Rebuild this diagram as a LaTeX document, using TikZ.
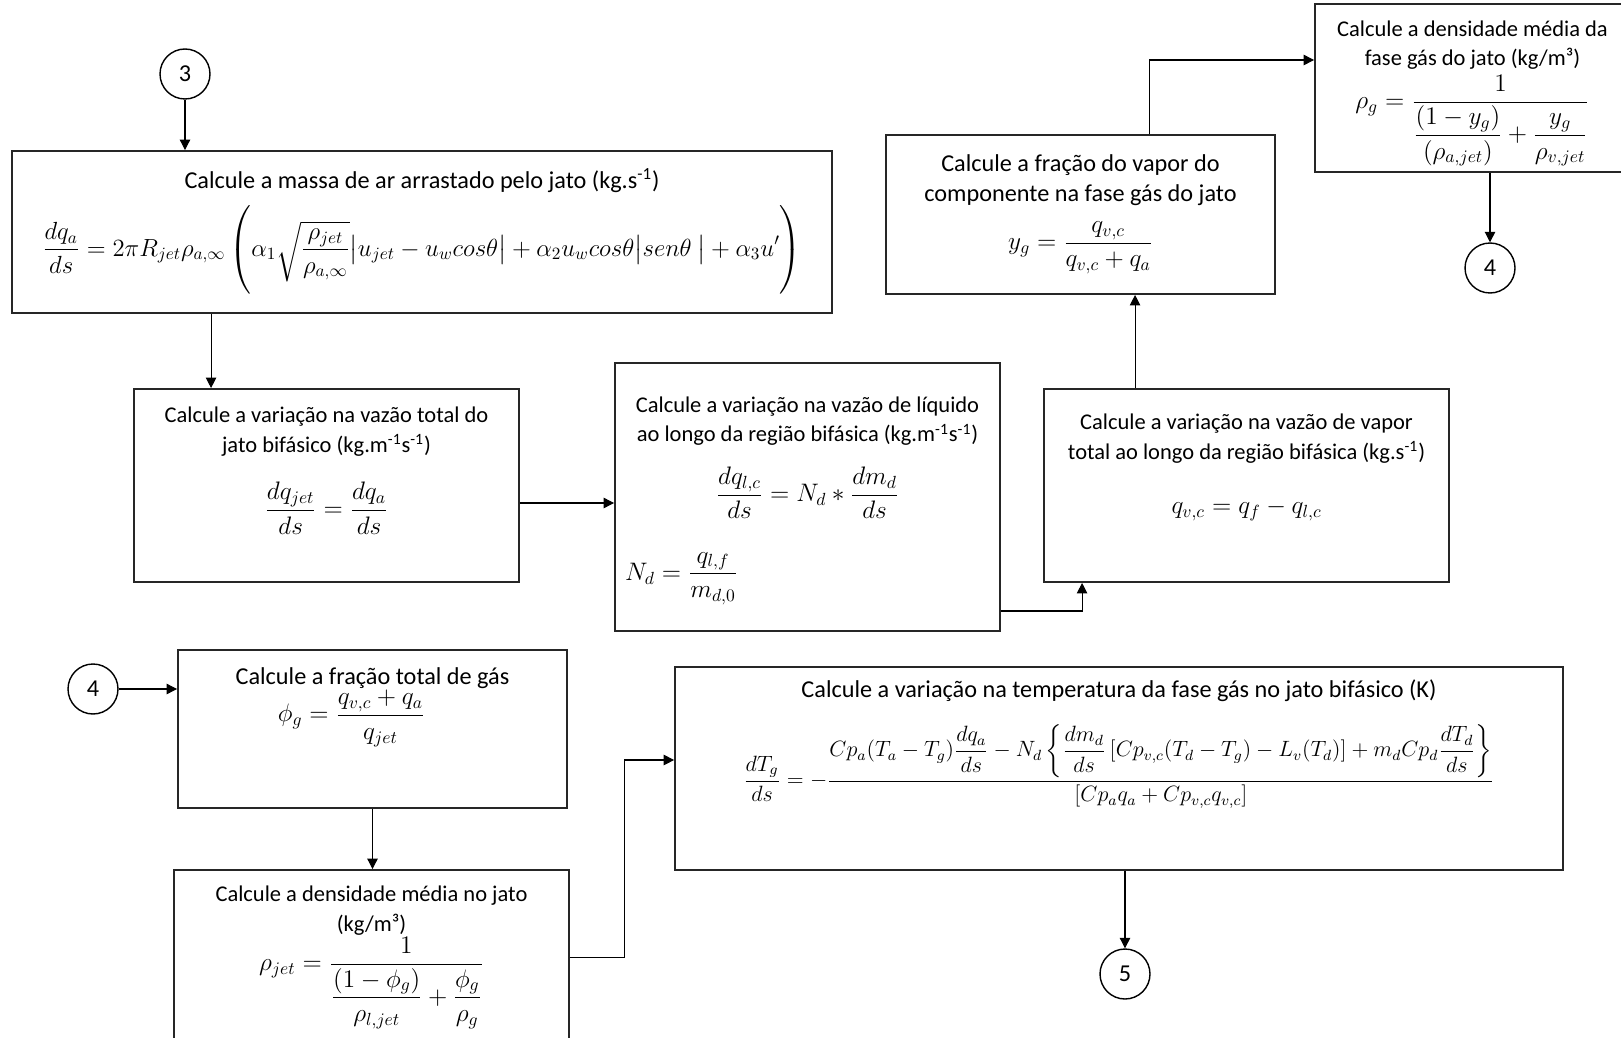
\documentclass[tikz,border=0pt]{standalone}
\usepackage{amsmath}
\usepackage{graphicx}
\usepackage{fontspec}
\setmainfont{Carlito}
\usetikzlibrary{positioning, calc, arrows.meta}

% equations are set larger than the box titles
\newcommand{\calcq}[1]{{\fontsize{14.4}{18}\selectfont$\displaystyle #1$}}

\begin{document}
\begin{tikzpicture}[
        x=0.02cm, y=-0.02cm,
        font=\fontsize{13.8}{17}\selectfont,
        box/.style={rectangle, draw=black!85, line width=1.1pt, align=center, inner sep=2pt},
        smallbox/.style={box, font=\fontsize{12.8}{17}\selectfont},
        connector/.style={circle, draw=black, line width=0.8pt, minimum size=1cm, inner sep=0pt},
        arrow/.style={-{Triangle[length=6pt, width=6pt]}, line width=0.6pt, draw=black}
    ]
        \path[use as bounding box, fill=white] (0,0) rectangle (1621,1037);

        % --- UPPER ROW ---
        \node[connector] (c3) at (185,74) {3};
        \node[box, minimum width=16.4cm, minimum height=3.24cm] (massa) at (422,232)
            {Calcule a massa de ar arrastado pelo jato (kg.s\textsuperscript{-1})\\[6pt]
             \scalebox{0.98}{\calcq{\frac{dq_a}{ds} = 2\pi R_{jet}\rho_{a,\infty}\left(\rule[-0.8cm]{0pt}{1.75cm}\alpha_1\sqrt{\frac{\rho_{jet}}{\rho_{a,\infty}}}\bigl|u_{jet}-u_w cos\theta\bigr| + \alpha_2 u_w cos\theta\bigl|sen\theta\ \bigr| + \alpha_3 u'\right)}}};
        \node[smallbox, minimum width=7.7cm, minimum height=3.86cm] (vtotal) at (326.5,485.5)
            {Calcule a variação na vazão total do\\ jato bifásico (kg.m\textsuperscript{-1}s\textsuperscript{-1})\\[14pt]
             \calcq{\frac{dq_{jet}}{ds} = \frac{dq_a}{ds}}\\[10pt]\mbox{}};
        \node[smallbox, minimum width=7.7cm, minimum height=5.36cm] (vliq) at (807.5,497)
            {\rule{0pt}{13pt}Calcule a variação na vazão de líquido\\ ao longo da região bifásica (kg.m\textsuperscript{-1}s\textsuperscript{-1})\\[11pt]
             \calcq{\frac{dq_{l,c}}{ds} = N_d * \frac{dm_d}{ds}}\\[18pt]
             \makebox[7.3cm][l]{\calcq{N_d = \frac{q_{l,f}}{m_{d,0}}}}};
        \node[smallbox, minimum width=8.1cm, minimum height=3.86cm] (vvap) at (1246.5,485.5)
            {Calcule a variação na vazão de vapor\\ total ao longo da região bifásica (kg.s\textsuperscript{-1})\\[14pt]
             \calcq{q_{v,c} = q_f - q_{l,c}}\\[8pt]\mbox{}};
        \node[box, minimum width=7.78cm, minimum height=3.18cm] (fvap) at (1080.5,214.5)
            {Calcule a fração do vapor do\\ componente na fase gás do jato\\[8pt]
             \calcq{y_g = \frac{q_{v,c}}{q_{v,c}+q_a}\rule[-14pt]{0pt}{14pt}}};
        \node[smallbox, minimum width=6.3cm, minimum height=3.36cm] (dgas) at (1472.5,88)
            {\rule{0pt}{15pt}Calcule a densidade média da\\ fase gás do jato (kg/m³)\\[2pt]
             \calcq{\rho_g = \frac{1}{\dfrac{(1-y_g)}{(\rho_{a,jet})} + \dfrac{y_g}{\rho_{v,jet}}}}};
        \node[connector] (c4a) at (1490,268) {4};

        % --- LOWER ROW ---
        \node[connector] (c4b) at (93,689) {4};
        \node[box, minimum width=7.78cm, minimum height=3.16cm] (fgas) at (372.5,729)
            {Calcule a fração total de gás\\
             \calcq{\phi_g = \frac{q_{v,c}+q_a}{q_{jet}}}\rule{0.84cm}{0pt}\\[22pt]\mbox{}};
        \node[smallbox, minimum width=7.9cm, minimum height=3.5cm] (djet) at (371.5,957.5)
            {Calcule a densidade média no jato\\ (kg/m³)\\
             \calcq{\rho_{jet} = \frac{1}{\dfrac{(1-\phi_g)}{\rho_{l,jet}} + \dfrac{\phi_g}{\rho_g}}}};
        \node[box, minimum width=17.76cm, minimum height=4.06cm] (temp) at (1119,768.5)
            {Calcule a variação na temperatura da fase gás no jato bifásico (K)\\[12pt]
             \scalebox{1.05}{\fontsize{12}{15}\selectfont$\displaystyle\frac{dT_g}{ds} = -\frac{Cp_a(T_a-T_g)\dfrac{dq_a}{ds} - N_d\left\{\dfrac{dm_d}{ds}\left[Cp_{v,c}(T_d-T_g)-L_v(T_d)\right] + m_dCp_d\dfrac{dT_d}{ds}\right\}}{\left[Cp_aq_a+Cp_{v,c}q_{v,c}\right]}$}\\[23pt]\mbox{}};
        \node[connector] (c5) at (1125,974) {5};

        % --- CONNECTIONS ---
        \coordinate (ab) at ([xshift=1.56cm]vtotal.north west);
        \coordinate (bc) at ([yshift=-0.35cm]vtotal.east);
        \coordinate (cd) at ([yshift=-2.28cm]vliq.east);
        \coordinate (de) at ([xshift=1.84cm]vvap.north west);
        \coordinate (ef) at ([xshift=5.28cm]fvap.north west);

        \draw[arrow] (c3) -- (c3 |- massa.north);
        \draw[arrow] (ab |- massa.south) -- (ab);
        \draw[arrow] (bc) -- (bc -| vliq.west);
        \draw[arrow] (cd) -| ([xshift=0.78cm]vvap.south west);
        \draw[arrow] (de) -- (de |- fvap.south);
        \draw[arrow] (ef) |- ([yshift=0.56cm]dgas.west);
        \draw[arrow] (dgas.south -| c4a) -- (c4a);

        \draw[arrow] (c4b) -- (c4b -| fgas.west);
        \draw[arrow] (fgas.south) -- (fgas.south |- djet.north);
        \draw[arrow] (djet.east) -- ++(55,0) |- ([yshift=0.17cm]temp.west);
        \draw[arrow] (temp.south -| c5) -- (c5);
    \end{tikzpicture}
\end{document}
